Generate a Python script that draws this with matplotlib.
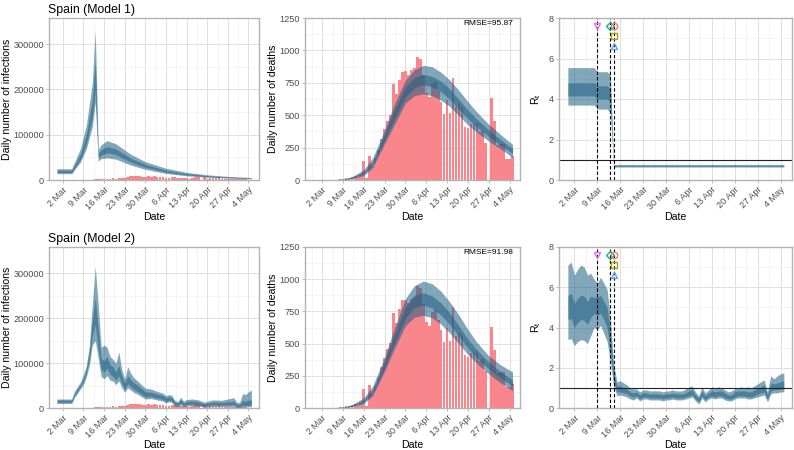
"""
Spain, two models side by side: daily infections, daily deaths and R_t,
each with 50% (dark) and 95% (light) credible bands over reported data.
"""
import matplotlib
matplotlib.use("Agg")
import matplotlib.dates as mdates
import matplotlib.pyplot as plt
import numpy as np

plt.rcParams["font.family"] = ["Liberation Sans", "DejaVu Sans"]

W, H = 794, 450
BLUE = "#1e5f82"
RED = "#f8868c"
GRID = "#e0e0e0"
FRAME = "#b3b3b3"

# ── reported data, one value per day 29 Feb .. 5 May ──
days = np.arange("2020-02-29", "2020-05-06", dtype="datetime64[D]")
deaths = [0,
          0, 0, 0, 1, 1, 2, 3, 5, 8, 13,
          18, 25, 30, 27, 38, 150, 18, 182, 105, 168,
          233, 320, 390, 455, 505, 740, 660, 770, 835, 838, 812,
          849, 864, 948, 930, 809, 670, 637, 745, 757, 683,
          605, 510, 619, 517, 785, 560, 585, 565, 410, 399,
          430, 435, 440, 367, 378, 288, 0, 632, 453, 268,
          281, 276, 164, 164, 185]
cases = [13,
         39, 36, 45, 57, 37, 98, 237, 157, 335, 557,
         579, 369, 1266, 1522, 1992, 1438, 1987, 2538, 3431, 2833,
         4946, 3646, 4517, 6584, 7937, 8578, 7871, 8189, 6549, 6398, 9222,
         7719, 8102, 7472, 7026, 6023, 4273, 5478, 6180, 5756, 4576,
         4830, 4167, 3477, 3268, 5103, 7304, 5891, 887, 6948, 1536,
         3968, 4211, 4635, 6740, 2796, 1729, 1831, 2793, 1308, 2144,
         1781, 1366, 1147, 838, 545]

# ── model 1: infections ──
inf1_dates = np.array(["2020-02-29", "2020-03-05", "2020-03-06", "2020-03-08", "2020-03-10",
                       "2020-03-12", "2020-03-13", "2020-03-14", "2020-03-15", "2020-03-17",
                       "2020-03-20", "2020-03-25", "2020-03-30", "2020-04-06", "2020-04-13",
                       "2020-04-20", "2020-04-27", "2020-05-05"], dtype="datetime64[D]")
inf1_lo50 = [16500, 16500, 26500, 46000, 80000, 137000, 197000, 49000, 55000, 60000,
             56000, 39500, 28000, 17500, 11200, 7600, 5200, 3500]
inf1_hi50 = [21500, 21500, 34000, 58000, 101000, 176000, 262000, 59000, 67000, 74000,
             68500, 48500, 34500, 21700, 14000, 9500, 6600, 4500]
inf1_lo95 = [14000, 14000, 23000, 40000, 70000, 118000, 172000, 42000, 47000, 49000,
             46000, 33000, 23500, 14500, 9200, 6200, 4200, 2800]
inf1_hi95 = [25000, 25000, 40000, 70000, 122000, 215000, 332000, 67000, 78000, 87000,
             80000, 57000, 40500, 26000, 17000, 11500, 8000, 5500]

# ── model 2: infections ──
inf2_dates = np.array(["2020-02-29", "2020-03-05", "2020-03-06", "2020-03-07", "2020-03-08",
                       "2020-03-09", "2020-03-10", "2020-03-11", "2020-03-12", "2020-03-13",
                       "2020-03-14", "2020-03-15", "2020-03-16", "2020-03-17", "2020-03-18",
                       "2020-03-19", "2020-03-20", "2020-03-21", "2020-03-22", "2020-03-23",
                       "2020-03-24", "2020-03-25", "2020-03-26", "2020-03-27", "2020-03-28",
                       "2020-03-29", "2020-03-30", "2020-04-01", "2020-04-03", "2020-04-05",
                       "2020-04-06", "2020-04-07", "2020-04-08", "2020-04-09", "2020-04-10",
                       "2020-04-11", "2020-04-12", "2020-04-13", "2020-04-15", "2020-04-17",
                       "2020-04-19", "2020-04-20", "2020-04-22", "2020-04-25", "2020-04-27",
                       "2020-04-29", "2020-04-30", "2020-05-01", "2020-05-02", "2020-05-03",
                       "2020-05-04", "2020-05-05"], dtype="datetime64[D]")
inf2_lo95 = [10000, 10000, 24000, 33000, 43000, 52000, 70000, 95000, 140000, 150000,
             110000, 70000, 65000, 72000, 62000, 60000, 52000, 60000, 45000, 35000,
             45000, 40000, 35000, 32000, 28000, 24000, 20000, 21000, 18000, 15000,
             11000, 14000, 12000, 4000, 3000, 7000, 3000, 5000, 5000, 4000,
             2500, 3000, 4000, 3500, 3500, 4000, 1500, 1000, 2500, 2500, 3000, 3000]
inf2_hi95 = [20000, 20000, 38000, 48000, 58000, 75000, 95000, 140000, 230000, 315000,
             230000, 135000, 140000, 135000, 115000, 108000, 100000, 125000, 85000, 65000,
             92000, 78000, 68000, 62000, 56000, 50000, 44000, 42000, 37000, 33000,
             27000, 30000, 28000, 17000, 14000, 24000, 15000, 19000, 20000, 18000,
             13000, 15000, 18000, 17000, 20000, 23000, 13000, 12000, 32000, 30000, 36000, 40000]
inf2_lo50 = [13000, 13000, 28000, 38000, 49000, 60000, 78000, 108000, 160000, 185000,
             130000, 85000, 80000, 88000, 75000, 70000, 62000, 72000, 54000, 42000,
             54000, 48000, 42000, 38000, 34000, 29000, 25000, 25500, 22000, 19000,
             14500, 17500, 15500, 7000, 5500, 11000, 5500, 8000, 8500, 7000,
             4500, 5500, 7000, 6000, 6500, 7000, 3500, 3000, 6000, 5500, 6500, 6500]
inf2_hi50 = [17500, 17500, 33000, 43000, 53000, 67000, 86000, 125000, 195000, 245000,
             175000, 110000, 105000, 115000, 96000, 92000, 80000, 95000, 72000, 55000,
             72000, 64000, 56000, 53000, 47000, 42000, 36000, 35000, 31000, 28000,
             22000, 25000, 23000, 13000, 11000, 19000, 11000, 14500, 15500, 13500,
             9500, 11000, 13500, 12500, 13500, 15000, 8500, 7500, 17000, 15000, 17000, 18000]

# ── expected deaths, both models ──
dth_dates = np.array(["2020-03-01", "2020-03-05", "2020-03-09", "2020-03-12", "2020-03-16",
                      "2020-03-19", "2020-03-23", "2020-03-26", "2020-03-30", "2020-04-02",
                      "2020-04-05", "2020-04-08", "2020-04-11", "2020-04-14", "2020-04-17",
                      "2020-04-20", "2020-04-23", "2020-04-27", "2020-05-01", "2020-05-05"],
                     dtype="datetime64[D]")
dth1_lo50 = [0, 1, 4, 14, 47, 115, 305, 455, 640, 710, 735, 720, 680, 620, 545, 472, 410, 335, 268, 205]
dth1_hi50 = [0, 1, 6, 20, 63, 145, 355, 525, 720, 790, 815, 800, 760, 700, 620, 540, 470, 385, 312, 240]
dth1_lo95 = [0, 0, 3, 10, 35, 95, 280, 415, 595, 650, 665, 650, 615, 565, 495, 425, 368, 300, 240, 175]
dth1_hi95 = [0, 2, 8, 25, 80, 170, 385, 570, 770, 850, 885, 875, 830, 770, 690, 605, 525, 430, 350, 275]
dth2_lo50 = [0, 1, 4, 14, 47, 115, 310, 485, 695, 780, 800, 775, 720, 645, 555, 465, 390, 303, 232, 172]
dth2_hi50 = [0, 1, 6, 20, 63, 145, 360, 555, 785, 875, 895, 870, 815, 735, 635, 535, 450, 357, 280, 218]
dth2_lo95 = [0, 0, 3, 10, 35, 95, 285, 445, 640, 705, 720, 700, 650, 580, 495, 415, 345, 265, 195, 135]
dth2_hi95 = [0, 2, 8, 25, 80, 170, 395, 600, 850, 950, 985, 965, 905, 820, 720, 610, 510, 405, 335, 280]
rmse = ["RMSE=95.87", "RMSE=91.98"]

# ── R_t, model 1 (piecewise constant) ──
rt1_dates = np.array(["2020-02-29", "2020-03-08", "2020-03-09", "2020-03-12", "2020-03-13",
                      "2020-03-14", "2020-05-05"], dtype="datetime64[D]")
rt1_lo50 = [4.15, 4.15, 4.0, 4.0, 3.9, 0.68, 0.68]
rt1_hi50 = [4.8, 4.8, 4.65, 4.65, 4.5, 0.72, 0.72]
rt1_lo95 = [3.7, 3.7, 3.5, 3.5, 3.3, 0.64, 0.64]
rt1_hi95 = [5.55, 5.55, 5.35, 5.35, 5.2, 0.77, 0.77]

# ── R_t, model 2 (daily) ──
rt2_lo95 = [3.4,
            3.45, 3.1, 3.3, 3.4, 3.35, 3.2, 3.6, 4.0, 3.9, 4.1,
            3.7, 3.3, 2.3, 1.1, 0.6, 0.65, 0.6, 0.55, 0.45, 0.4,
            0.5, 0.35, 0.45, 0.45, 0.4, 0.4, 0.4, 0.4, 0.35, 0.4, 0.4,
            0.45, 0.4, 0.4, 0.4, 0.45, 0.5, 0.55, 0.35, 0.2, 0.5,
            0.3, 0.45, 0.5, 0.45, 0.5, 0.5, 0.4, 0.35, 0.35, 0.45,
            0.5, 0.5, 0.5, 0.45, 0.45, 0.5, 0.55, 0.6, 0.65, 0.3,
            0.7, 0.75, 0.75, 0.8, 0.8]
rt2_lo50 = [4.4,
            4.45, 4.0, 4.25, 4.4, 4.35, 4.15, 4.5, 4.7, 4.6, 4.7,
            4.4, 4.0, 2.8, 1.3, 0.8, 0.8, 0.75, 0.7, 0.6, 0.55,
            0.6, 0.45, 0.55, 0.55, 0.5, 0.5, 0.5, 0.5, 0.45, 0.5, 0.5,
            0.55, 0.5, 0.5, 0.5, 0.55, 0.6, 0.65, 0.45, 0.3, 0.6,
            0.4, 0.55, 0.6, 0.55, 0.6, 0.6, 0.5, 0.45, 0.45, 0.55,
            0.6, 0.6, 0.6, 0.55, 0.55, 0.6, 0.7, 0.75, 0.8, 0.45,
            0.85, 0.9, 0.9, 0.95, 0.95]
rt2_hi50 = [5.6,
            5.7, 5.2, 5.45, 5.6, 5.55, 5.3, 5.55, 5.5, 5.5, 5.6,
            5.3, 5.0, 3.6, 1.7, 1.1, 1.1, 1.0, 0.95, 0.8, 0.75,
            0.8, 0.65, 0.75, 0.75, 0.7, 0.7, 0.7, 0.7, 0.65, 0.7, 0.7,
            0.75, 0.7, 0.7, 0.7, 0.75, 0.85, 0.9, 0.65, 0.5, 0.85,
            0.6, 0.75, 0.85, 0.8, 0.85, 0.85, 0.75, 0.65, 0.65, 0.8,
            0.85, 0.85, 0.85, 0.8, 0.8, 0.9, 1.0, 1.05, 1.15, 0.65,
            1.25, 1.2, 1.25, 1.3, 1.35]
rt2_hi95 = [7.1,
            7.25, 6.6, 6.9, 7.1, 7.0, 6.6, 6.7, 6.4, 6.2, 6.5,
            6.2, 5.9, 4.4, 2.2, 1.3, 1.35, 1.25, 1.15, 1.0, 0.95,
            0.95, 0.8, 0.9, 0.9, 0.85, 0.85, 0.85, 0.85, 0.8, 0.85, 0.85,
            0.9, 0.85, 0.85, 0.85, 0.95, 1.05, 1.1, 0.8, 0.6, 1.05,
            0.75, 0.9, 1.05, 1.0, 1.05, 1.0, 0.9, 0.8, 0.85, 0.95,
            1.0, 1.05, 1.0, 1.05, 1.0, 1.1, 1.2, 1.3, 1.4, 0.8,
            1.6, 1.45, 1.6, 1.7, 1.75]

# interventions: date, marker, colour, height on the R_t axis
iv_dates = np.array(["2020-03-09", "2020-03-13", "2020-03-14", "2020-03-14", "2020-03-14"],
                    dtype="datetime64[D]")
iv_marker = ["v", "D", "o", "s", "^"]
iv_color = ["#E76BF3", "#00BF7D", "#F8766D", "#A3A500", "#619CFF"]
iv_y = [7.6, 7.6, 7.6, 7.1, 6.6]
iv_lines = np.array(["2020-03-09", "2020-03-13", "2020-03-14"], dtype="datetime64[D]")

week_ticks = np.arange("2020-03-02", "2020-05-05", 7, dtype="datetime64[D]")
week_labels = ["2 Mar", "9 Mar", "16 Mar", "23 Mar", "30 Mar",
               "6 Apr", "13 Apr", "20 Apr", "27 Apr", "4 May"]
titles = ["Spain (Model 1)", "Spain (Model 2)"]


def panel(fig, left, top, right, bottom):
    ax = fig.add_axes([left / W, 1 - bottom / H, (right - left) / W, (bottom - top) / H])
    ax.px_left, ax.px_width = left, right - left
    return ax


def style(ax, xlim, ylim, yticks, ylabels, ylabel, ylabel_x):
    ax.set_xlim(np.datetime64(xlim[0]), np.datetime64(xlim[1]))
    ax.set_ylim(*ylim)
    major = mdates.date2num(week_ticks)
    ax.set_xticks(major)
    ax.set_xticks(np.append(major - 3.5, major[-1] + 3.5), minor=True)
    ax.set_xticklabels(week_labels, rotation=45, ha="right", va="top", rotation_mode="anchor")
    ax.set_yticks(yticks)
    ax.set_yticklabels(ylabels)
    ax.set_yticks(np.array(yticks[:-1]) + (yticks[1] - yticks[0]) / 2, minor=True)
    ax.grid(which="major", color=GRID, lw=0.7)
    ax.grid(which="minor", color="#eeeeee", lw=0.45)
    ax.set_axisbelow(True)
    ax.tick_params(which="major", length=2.5, width=0.6, color=FRAME, labelsize=6.6,
                   labelcolor="#4d4d4d", pad=1.2)
    ax.tick_params(which="minor", length=0)
    for s in ax.spines.values():
        s.set_color(FRAME)
        s.set_linewidth(1.0)
    ax.set_xlabel("Date", fontsize=7.6, labelpad=0.3)
    ax.set_ylabel(ylabel, fontsize=7.6)
    # right edge of the rotated label, in figure pixels
    ax.yaxis.set_label_coords((ylabel_x - ax.px_left) / ax.px_width, 0.5)


def bands(ax, x, lo95, hi95, lo50, hi50):
    ax.fill_between(x, lo95, hi95, color=BLUE, alpha=0.55, lw=0)
    ax.fill_between(x, lo50, hi50, color=BLUE, alpha=0.55, lw=0)


fig = plt.figure(figsize=(W / 100, H / 100), dpi=100)

rows = [(18, 180), (247, 408)]
inf_bands = [(inf1_dates, inf1_lo95, inf1_hi95, inf1_lo50, inf1_hi50),
             (inf2_dates, inf2_lo95, inf2_hi95, inf2_lo50, inf2_hi50)]
dth_bands = [(dth_dates, dth1_lo95, dth1_hi95, dth1_lo50, dth1_hi50),
             (dth_dates, dth2_lo95, dth2_hi95, dth2_lo50, dth2_hi50)]
rt_bands = [(rt1_dates, rt1_lo95, rt1_hi95, rt1_lo50, rt1_hi50),
            (days, rt2_lo95, rt2_hi95, rt2_lo50, rt2_hi50)]

for r, (top, bottom) in enumerate(rows):
    # infections
    ax = panel(fig, 49, top, 259, bottom)
    ax.bar(days, cases, width=0.9, color=RED, lw=0)
    bands(ax, *inf_bands[r])
    style(ax, ("2020-02-26T07:00", "2020-05-07T14:00"), (0, 358000),
          [0, 100000, 200000, 300000], ["0", "100000", "200000", "300000"],
          "Daily number of infections", 12.5)
    fig.text(48 / W, 1 - (12.7 + top - 18) / H, titles[r], fontsize=8.8, va="baseline")

    # deaths
    ax = panel(fig, 305, top, 520, bottom)
    ax.bar(days, deaths, width=0.9, color=RED, lw=0)
    bands(ax, *dth_bands[r])
    style(ax, ("2020-02-25T06:00", "2020-05-06T21:00"), (0, 1250),
          [0, 250, 500, 750, 1000, 1250], ["0", "250", "500", "750", "1000", "1250"],
          "Daily number of deaths", 277.5)
    ax.text(0.968, 0.99, rmse[r], transform=ax.transAxes, ha="right", va="top", fontsize=6)

    # R_t
    ax = panel(fig, 559, top, 792, bottom)
    bands(ax, *rt_bands[r])
    ax.axhline(1, color="#222222", lw=0.8)
    for d in iv_lines:
        ax.axvline(d, color="black", lw=0.8, ls=(0, (3, 2)))
    for d, m, c, y in zip(iv_dates, iv_marker, iv_color, iv_y):
        ax.plot(d, y, marker=m, mfc="none", mec=c, mew=1.0,
                ms=3.6 if m == "D" else 4.6, ls="none")
    style(ax, ("2020-02-26T07:00", "2020-05-07T05:00"), (0, 8),
          [0, 2, 4, 6, 8], ["0", "2", "4", "6", "8"], r"R$_\mathregular{t}$", 543)

fig.savefig("out.png", dpi=100)
